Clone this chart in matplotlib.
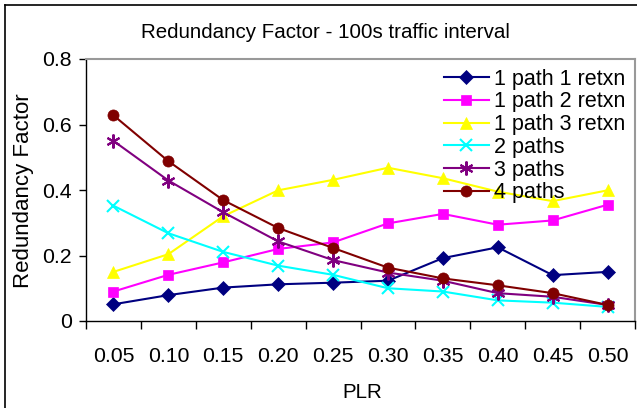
#Redundancy factor vs PLR, 100s traffic interval
import matplotlib.pyplot as plt
from matplotlib.lines import Line2D

plt.rcParams['font.family'] = ['Liberation Sans', 'DejaVu Sans']

plr = ['0.05', '0.10', '0.15', '0.20', '0.25', '0.30', '0.35', '0.40', '0.45', '0.50']

p1_r1 = [0.051, 0.079, 0.102, 0.112, 0.117, 0.123, 0.192, 0.225, 0.140, 0.150]
p1_r2 = [0.090, 0.141, 0.179, 0.220, 0.240, 0.298, 0.327, 0.294, 0.307, 0.355]
p1_r3 = [0.150, 0.204, 0.320, 0.399, 0.431, 0.468, 0.436, 0.395, 0.366, 0.399]
paths2 = [0.352, 0.268, 0.211, 0.169, 0.141, 0.100, 0.090, 0.063, 0.056, 0.043]
paths3 = [0.550, 0.429, 0.332, 0.243, 0.186, 0.148, 0.123, 0.085, 0.074, 0.049]
paths4 = [0.628, 0.488, 0.369, 0.284, 0.223, 0.163, 0.130, 0.109, 0.085, 0.049]

serie = [
    ('1 path 1 retxn', p1_r1, '#000080', 'D', 7),
    ('1 path 2 retxn', p1_r2, '#FF00FF', 's', 7),
    ('1 path 3 retxn', p1_r3, '#FFFF00', '^', 9),
    ('2 paths', paths2, '#00FFFF', 'x', 9),
    ('3 paths', paths3, '#800080', (6, 2, 0), 10),
    ('4 paths', paths4, '#800000', 'o', 8),
]

fig = plt.figure(figsize=(6.37, 4.08), dpi=100)
ax = fig.add_axes([86/637, 1-321/408, (635-86)/637, (321-59)/408])

x = list(range(len(plr)))
for nome, valori, colore, marker, ms in serie:
    ax.plot(x, valori, color=colore, marker=marker, markersize=ms, linewidth=1.5,
            markeredgewidth=1.5 if marker in ('x', (6, 2, 0)) else 0.5,
            markeredgecolor=colore, label=nome)

ax.set_xlim(-0.5, len(plr) - 0.5)
ax.set_ylim(0, 0.8)
ax.set_yticks([0, 0.2, 0.4, 0.6, 0.8])
ax.set_yticklabels(['0', '0.2', '0.4', '0.6', '0.8'])
ax.set_xticks(x)
ax.set_xticklabels(plr)
ax.set_xticks([i - 0.5 for i in range(len(plr) + 1)], minor=True)
ax.tick_params(axis='x', which='major', length=0, pad=19, labelsize=15.3)
ax.tick_params(axis='x', which='minor', length=6, width=1, direction='out')
ax.tick_params(axis='y', length=5, width=1, direction='out', pad=5, labelsize=15.3)

for s in ['top', 'right']:
    ax.spines[s].set_color('#999999')
    ax.spines[s].set_linewidth(1.5)
for s in ['left', 'bottom']:
    ax.spines[s].set_color('black')
    ax.spines[s].set_linewidth(1)

# etichette assi e titolo posizionati come nel grafico originale
fig.text(362/637, 1-392/408, 'PLR', ha='center', va='center', fontsize=14.8)
fig.text(24/637, 1-191/408, 'Redundancy Factor', ha='center', va='center',
         rotation=90, fontsize=16)
fig.text(325/637, 1-33/408, 'Redundancy Factor - 100s traffic interval',
         ha='center', va='center', fontsize=14.8)

leg = ax.legend(loc='upper right', bbox_to_anchor=(1.0, 1.0), frameon=False,
                fontsize=15.5, handlelength=2.05, handletextpad=0.25,
                labelspacing=0.08, borderaxespad=0.05)

# bordo esterno del grafico (solo sinistra e in alto sono visibili)
fig.add_artist(Line2D([5/637, 5/637], [0, 1-5/408], color='black', linewidth=1.2,
                      transform=fig.transFigure))
fig.add_artist(Line2D([5/637, 1], [1-5/408, 1-5/408], color='black', linewidth=1.2,
                      transform=fig.transFigure))

plt.savefig('out.png', dpi=100)
